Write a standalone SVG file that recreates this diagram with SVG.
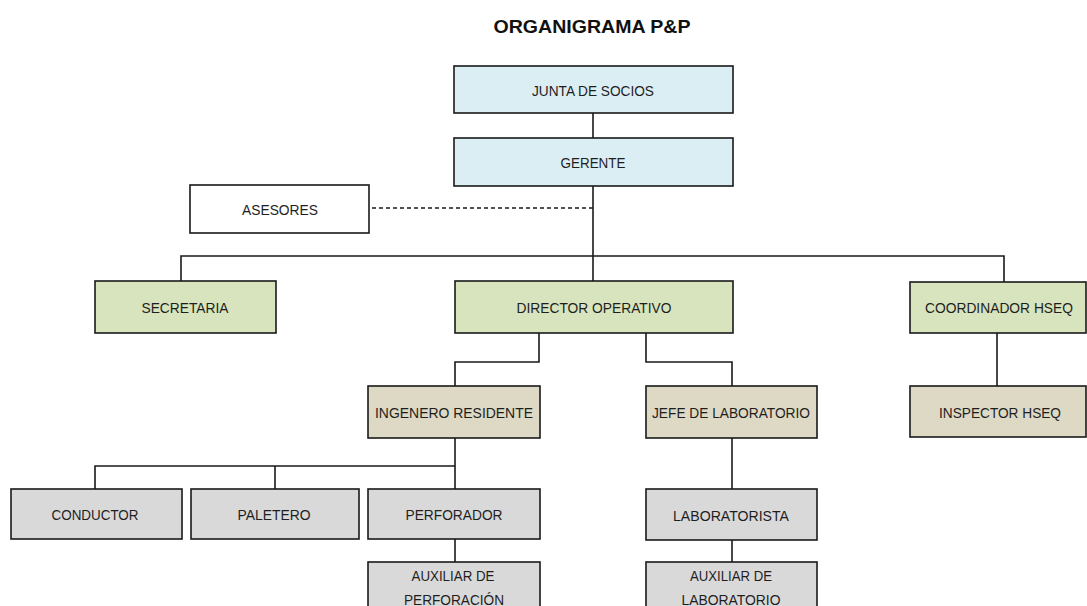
<svg xmlns="http://www.w3.org/2000/svg" width="1087" height="606" viewBox="0 0 1087 606">
<style>
.box{stroke:#1a1a1a;stroke-width:1.6}
.blue{fill:#dbeef4}
.green{fill:#d7e4bd}
.tan{fill:#ddd9c4}
.gray{fill:#d9d9d9}
.white{fill:#ffffff}
.t{font-family:"Liberation Sans",Arial,sans-serif;font-size:15px;fill:#1e1e1e;text-anchor:middle}
.title{font-family:"Liberation Sans",Arial,sans-serif;font-size:19px;font-weight:bold;fill:#111;text-anchor:middle}
.ln{fill:none;stroke:#1a1a1a;stroke-width:1.6}
.dash{fill:none;stroke:#1a1a1a;stroke-width:1.6;stroke-dasharray:4 3}
</style>
<rect width="1087" height="606" fill="#ffffff"/>
<text class="title" x="592" y="33" textLength="197" lengthAdjust="spacingAndGlyphs">ORGANIGRAMA P&amp;P</text>
<g id="connectors">
<path class="ln" d="M593,113V138"/>
<path class="ln" d="M593,186V281"/>
<path class="ln" d="M181,281V256H1004V282"/>
<path class="dash" d="M372,208H593"/>
<path class="ln" d="M539,333V362H455V386"/>
<path class="ln" d="M646,333V362H732V386"/>
<path class="ln" d="M455,438V489"/>
<path class="ln" d="M95,489V466H455"/>
<path class="ln" d="M275,466V489"/>
<path class="ln" d="M455,539V562"/>
<path class="ln" d="M732,438V489"/>
<path class="ln" d="M732,540V562"/>
<path class="ln" d="M997,333V386"/>
</g>
<g id="junta"><rect class="box blue" x="454" y="66" width="279" height="47"/><text class="t" x="593" y="96" textLength="122" lengthAdjust="spacingAndGlyphs">JUNTA DE SOCIOS</text></g>
<g id="gerente"><rect class="box blue" x="454" y="138" width="279" height="48"/><text class="t" x="593" y="168" textLength="65" lengthAdjust="spacingAndGlyphs">GERENTE</text></g>
<g id="asesores"><rect class="box white" x="190" y="185" width="179" height="48"/><text class="t" x="280" y="215" textLength="76" lengthAdjust="spacingAndGlyphs">ASESORES</text></g>
<g id="secretaria"><rect class="box green" x="95" y="281" width="181" height="52"/><text class="t" x="185" y="313" textLength="87" lengthAdjust="spacingAndGlyphs">SECRETARIA</text></g>
<g id="director"><rect class="box green" x="455" y="281" width="278" height="52"/><text class="t" x="594" y="313" textLength="155" lengthAdjust="spacingAndGlyphs">DIRECTOR OPERATIVO</text></g>
<g id="coordinador"><rect class="box green" x="910" y="282" width="176" height="51"/><text class="t" x="999" y="313" textLength="148" lengthAdjust="spacingAndGlyphs">COORDINADOR HSEQ</text></g>
<g id="ingeniero"><rect class="box tan" x="368" y="386" width="172" height="52"/><text class="t" x="454" y="418" textLength="158" lengthAdjust="spacingAndGlyphs">INGENERO RESIDENTE</text></g>
<g id="jefe"><rect class="box tan" x="646" y="386" width="171" height="52"/><text class="t" x="731" y="418" textLength="158" lengthAdjust="spacingAndGlyphs">JEFE DE LABORATORIO</text></g>
<g id="inspector"><rect class="box tan" x="910" y="386" width="176" height="51"/><text class="t" x="1000" y="418" textLength="122" lengthAdjust="spacingAndGlyphs">INSPECTOR HSEQ</text></g>
<g id="conductor"><rect class="box gray" x="11" y="489" width="171" height="50"/><text class="t" x="95" y="520" textLength="87" lengthAdjust="spacingAndGlyphs">CONDUCTOR</text></g>
<g id="paletero"><rect class="box gray" x="191" y="489" width="168" height="50"/><text class="t" x="274" y="520" textLength="73" lengthAdjust="spacingAndGlyphs">PALETERO</text></g>
<g id="perforador"><rect class="box gray" x="368" y="489" width="172" height="50"/><text class="t" x="454" y="520" textLength="97" lengthAdjust="spacingAndGlyphs">PERFORADOR</text></g>
<g id="aux-perforacion"><rect class="box gray" x="368" y="562" width="172" height="60"/><text class="t" x="453" y="581" textLength="83" lengthAdjust="spacingAndGlyphs">AUXILIAR DE</text><text class="t" x="454" y="605" textLength="100" lengthAdjust="spacingAndGlyphs">PERFORACIÓN</text></g>
<g id="laboratorista"><rect class="box gray" x="646" y="489" width="171" height="51"/><text class="t" x="731" y="521" textLength="116" lengthAdjust="spacingAndGlyphs">LABORATORISTA</text></g>
<g id="aux-laboratorio"><rect class="box gray" x="646" y="562" width="171" height="60"/><text class="t" x="731" y="581" textLength="82" lengthAdjust="spacingAndGlyphs">AUXILIAR DE</text><text class="t" x="731" y="605" textLength="99" lengthAdjust="spacingAndGlyphs">LABORATORIO</text></g>
</svg>
